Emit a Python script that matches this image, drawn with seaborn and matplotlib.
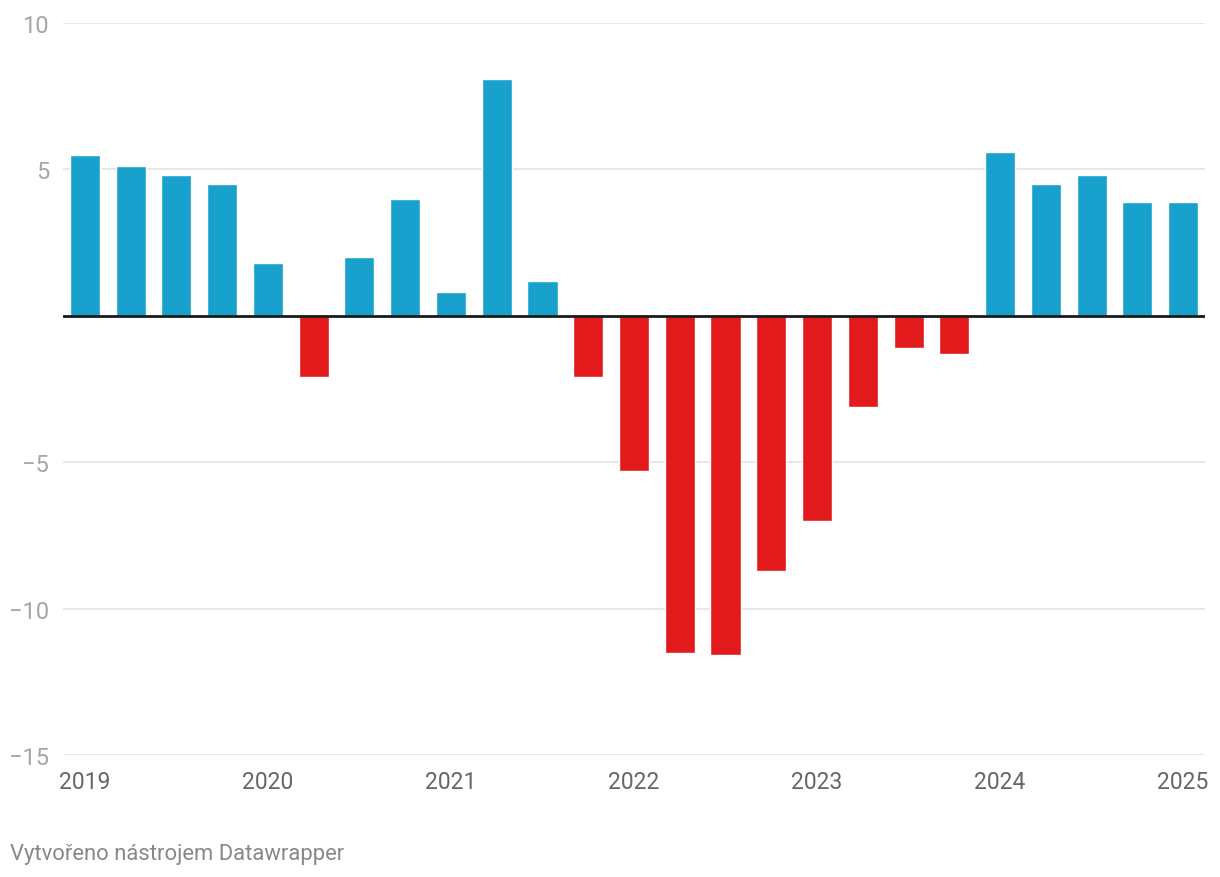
import pandas as pd
import numpy as np
import matplotlib
matplotlib.use('Agg')
import matplotlib.pyplot as plt
import seaborn as sns

# quarterly values, 2019 Q1 .. 2025 Q1
quarters = [f"{y} Q{q}" for y in range(2019, 2025) for q in range(1, 5)] + ["2025 Q1"]
values = [5.5, 5.1, 4.8, 4.5,
          1.8, -2.1, 2.0, 4.0,
          0.8, 8.1, 1.2, -2.1,
          -5.3, -11.5, -11.6, -8.7,
          -7.0, -3.1, -1.1, -1.3,
          5.6, 4.5, 4.8, 3.9,
          3.9]
year_labels = ["2019", "2020", "2021", "2022", "2023", "2024", "2025"]
y_ticks = [-15, -10, -5, 0, 5, 10]

df = pd.DataFrame({'quarter': quarters, 'value': values})
df['sign'] = np.where(df['value'] >= 0, 'pos', 'neg')

sns.set_style('white')
plt.rcParams['font.family'] = ['Roboto', 'DejaVu Sans']

fig = plt.figure(figsize=(12.2, 8.78), dpi=100)
ax = fig.add_axes([63 / 1220, 1 - 756 / 878, (1205 - 63) / 1220, (756 - 24) / 878])

sns.barplot(data=df, x='quarter', y='value', hue='sign',
            palette={'pos': '#18a1cd', 'neg': '#e31a1c'},
            dodge=False, width=0.656, legend=False, ax=ax, saturation=1)

ax.set_xlim(-0.48, len(quarters) - 1 + 0.48)
ax.set_ylim(-15, 10)

# grid + zero line
for t in y_ticks:
    if t == 0:
        ax.axhline(0, color='#1a1a1a', lw=2, zorder=3)
    else:
        ax.axhline(t, color='#e5e5e5', lw=1.3, zorder=0)

ax.set_yticks(y_ticks)
ax.set_yticklabels(['' if t == 0 else str(t).replace('-', '\u2212') for t in y_ticks])
ax.set_xticks(range(0, len(quarters), 4))
ax.set_xticklabels(year_labels)
ax.tick_params(axis='y', length=0, pad=10, labelsize=17, labelcolor='#a6a6a6')
ax.tick_params(axis='x', length=0, pad=11, labelsize=16.5, labelcolor='#666666')
ax.set_xlabel('')
ax.set_ylabel('')
for s in ax.spines.values():
    s.set_visible(False)

fig.text(10 / 1220, 1 - 855 / 878, 'Vytvořeno nástrojem Datawrapper',
         fontsize=15.8, color='#888888', ha='left', va='center')

fig.savefig('out.png', dpi=100)
